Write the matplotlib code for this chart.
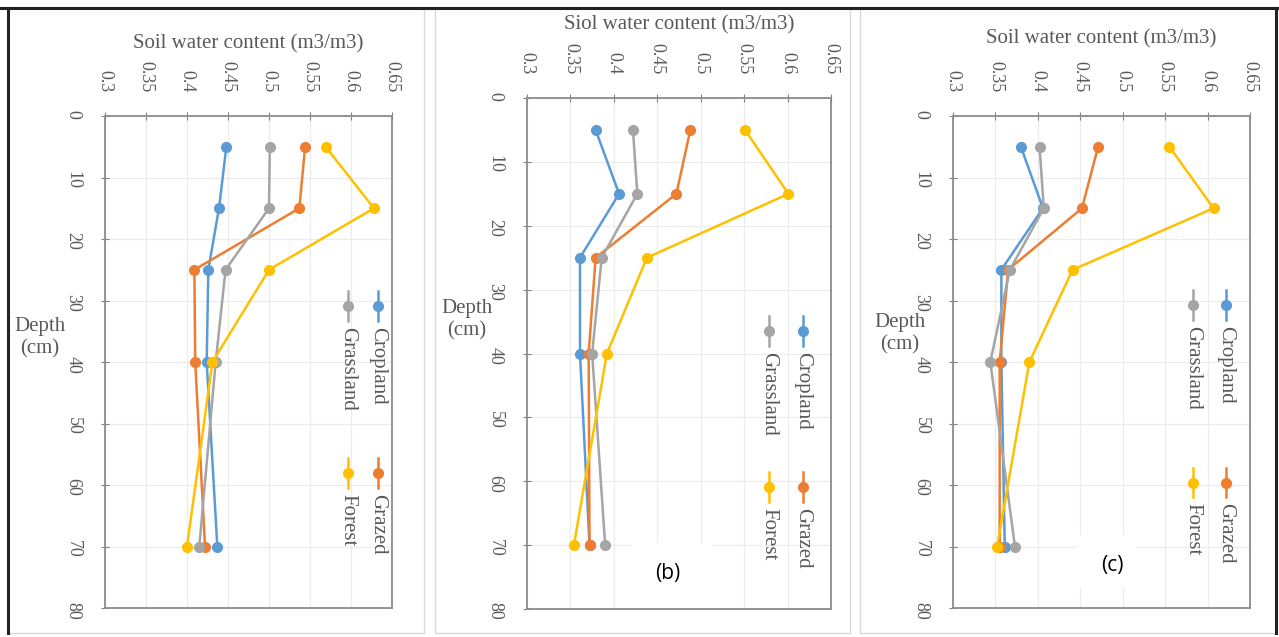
import matplotlib
matplotlib.use('Agg')
import matplotlib.pyplot as plt
from matplotlib.lines import Line2D
from matplotlib.patches import Rectangle

# depths (cm)
depth = [5, 15, 25, 40, 70]

# panel (a)
a_cropland = [0.448, 0.439, 0.426, 0.424, 0.437]
a_grassland = [0.501, 0.500, 0.447, 0.435, 0.415]
a_grazed = [0.544, 0.537, 0.409, 0.410, 0.422]
a_forest = [0.569, 0.628, 0.500, 0.431, 0.400]

# panel (b)
b_cropland = [0.379, 0.406, 0.361, 0.361, 0.372]
b_grassland = [0.422, 0.427, 0.386, 0.375, 0.390]
b_grazed = [0.488, 0.472, 0.379, 0.371, 0.372]
b_forest = [0.551, 0.601, 0.438, 0.392, 0.354]

# panel (c)
c_cropland = [0.380, 0.406, 0.357, 0.357, 0.361]
c_grassland = [0.402, 0.407, 0.367, 0.344, 0.373]
c_grazed = [0.471, 0.452, 0.365, 0.355, 0.355]
c_forest = [0.555, 0.607, 0.441, 0.390, 0.352]

names = ['Cropland', 'Grazed', 'Grassland', 'Forest']
colors = {'Cropland': '#5B9BD5', 'Grazed': '#ED7D31',
          'Grassland': '#A5A5A5', 'Forest': '#FFC000'}
xticks = [0.3, 0.35, 0.4, 0.45, 0.5, 0.55, 0.6, 0.65]
xticklabels = ['0.3', '0.35', '0.4', '0.45', '0.5', '0.55', '0.6', '0.65']
yticks = [0, 10, 20, 30, 40, 50, 60, 70, 80]

W, H = 1279, 637
fig = plt.figure(figsize=(W / 100, H / 100), dpi=100)
fig.patch.set_facecolor('white')

serif = ['Liberation Serif', 'DejaVu Serif']
txtcol = '#595959'


def px_rect(l, t, r, b):
    return [l / W, (H - b) / H, (r - l) / W, (b - t) / H]


# panel frames
for (l, r) in [(8, 424), (435, 850), (860, 1276)]:
    fig.patches.append(Rectangle((l / W, (H - 633) / H), (r - l) / W, (633 - 8) / H,
                                 transform=fig.transFigure, fill=False,
                                 edgecolor='#d9d9d9', lw=1.0))
fig.lines.append(Line2D([0, 1], [(H - 8) / H] * 2, transform=fig.transFigure, color='#222222', lw=2.2))
fig.lines.append(Line2D([8 / W] * 2, [(H - 633) / H, (H - 8) / H], transform=fig.transFigure, color='#222222', lw=2.2))
fig.lines.append(Line2D([1276 / W] * 2, [(H - 633) / H, (H - 8) / H], transform=fig.transFigure, color='#222222', lw=2.2))

panels = [
    dict(rect=(105, 116, 392, 608), data=[a_cropland, a_grazed, a_grassland, a_forest],
         title='Soil water content (m3/m3)', title_y=44,
         depth_xy=(40, 338), leg_x=(0.951, 0.847), leg_y=(0.386, 0.726), tag=None),
    dict(rect=(527, 98, 831, 609), data=[b_cropland, b_grazed, b_grassland, b_forest],
         title='Siol water content (m3/m3)', title_y=25,
         depth_xy=(467, 320), leg_x=(0.907, 0.796), leg_y=(0.456, 0.761),
         tag=('(b)', 668, 574, (632, 543, 712, 608))),
    dict(rect=(953, 116, 1250, 608), data=[c_cropland, c_grazed, c_grassland, c_forest],
         title='Soil water content (m3/m3)', title_y=39,
         depth_xy=(900, 334), leg_x=(0.919, 0.807), leg_y=(0.384, 0.745),
         tag=('(c)', 1112, 566, (1077, 535, 1137, 588))),
]

for p in panels:
    l, t, r, b = p['rect']
    ax = fig.add_axes(px_rect(l, t, r, b))
    ax.set_xlim(0.3, 0.65)
    ax.set_ylim(80, 0)
    ax.xaxis.tick_top()
    ax.set_xticks(xticks)
    ax.set_xticklabels(xticklabels, rotation=270, fontsize=13, color=txtcol, family=serif)
    ax.set_yticks(yticks)
    ax.set_yticklabels([str(v) for v in yticks], rotation=270, fontsize=13, color=txtcol, family=serif)
    ax.tick_params(axis='x', direction='inout', length=6, color='#808080', pad=14)
    ax.tick_params(axis='y', direction='inout', length=6, color='#808080', pad=14)
    ax.grid(True, color='#ececec', lw=0.9)
    ax.set_axisbelow(True)
    for s in ax.spines.values():
        s.set_color('#8c8c8c')
        s.set_linewidth(1.3)

    for name, vals in zip(names, p['data']):
        ax.plot(vals, depth, '-o', color=colors[name], lw=1.8, ms=7, zorder=3)

    # rotated legend
    for name in names:
        lx = p['leg_x'][0 if name in ('Cropland', 'Grazed') else 1]
        ly = 1 - p['leg_y'][0 if name in ('Cropland', 'Grassland') else 1]
        ax.add_line(Line2D([lx, lx], [ly - 0.03, ly + 0.03], transform=ax.transAxes,
                           color=colors[name], lw=1.8, clip_on=False))
        ax.add_line(Line2D([lx], [ly], transform=ax.transAxes, marker='o', ms=7,
                           color=colors[name], clip_on=False))
        ax.text(lx, ly - 0.042, name, transform=ax.transAxes, rotation=270,
                ha='center', va='top', fontsize=15, color=txtcol, family=serif)

    fig.text((l + r) / 2 / W, 1 - p['title_y'] / H, p['title'], ha='center', va='center',
             fontsize=15, color=txtcol, family=serif)
    dx, dy = p['depth_xy']
    fig.text(dx / W, 1 - dy / H, 'Depth\n(cm)', ha='center', va='center',
             fontsize=15, color=txtcol, family=serif, linespacing=1.25)

    if p['tag']:
        s, tx, ty, box = p['tag']
        bl, bt, br, bb = box
        fig.patches.append(Rectangle((bl / W, (H - bb) / H), (br - bl) / W, (bb - bt) / H,
                                     transform=fig.transFigure, facecolor='white',
                                     edgecolor='none', zorder=5))
        fig.text(tx / W, 1 - ty / H, s, ha='center', va='center', fontsize=15,
                 color='black', family=['Open Sans', 'DejaVu Sans'], zorder=6)

fig.savefig('out.png', dpi=100, facecolor='white')
